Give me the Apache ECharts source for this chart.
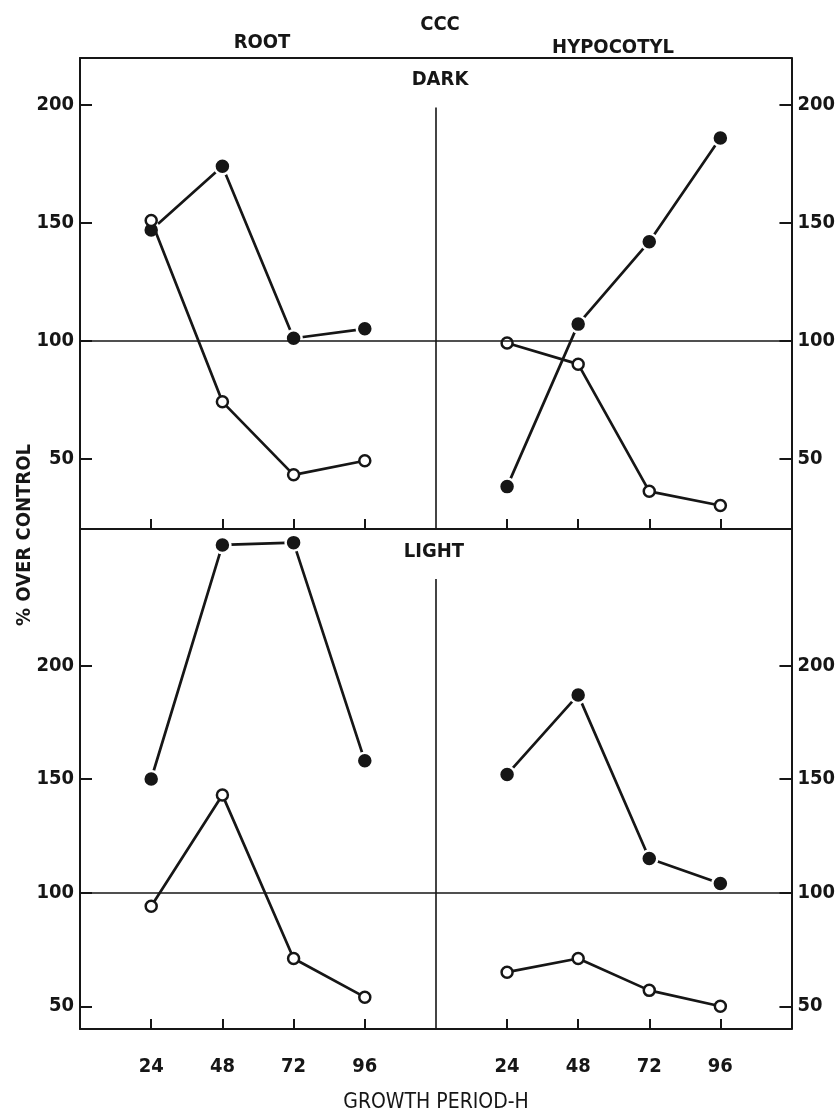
<!DOCTYPE html>
<html>
<head>
<meta charset="utf-8">
<script src="https://cdn.jsdelivr.net/npm/echarts@6/dist/echarts.min.js"></script>
<style>
  html, body { margin: 0; padding: 0; background: #ffffff; }
  #chart { width: 838px; height: 1114px; }
</style>
</head>
<body>
<div id="chart"></div>
<script>
// ---- data ----
const hours = [24, 48, 72, 96];
const xTickLabels = [24, 48, 72, 96];
const yTickLabels = [50, 100, 150, 200];

const darkRootFilled = [147, 174, 101, 105];
const darkRootOpen   = [151, 74, 43, 49];
const darkHypFilled  = [38, 107, 142, 186];
const darkHypOpen    = [99, 90, 36, 30];

const lightRootFilled = [150, 253, 254, 158];
const lightRootOpen   = [94, 143, 71, 54];
const lightHypFilled  = [152, 187, 115, 104];
const lightHypOpen    = [65, 71, 57, 50];

const controlLevel = 100;

// ---- styling ----
const INK = '#161616';
const FONT = "'DejaVu Sans Condensed', 'DejaVu Sans', sans-serif";

function pts(vals) { return hours.map((h, i) => [h, vals[i]]); }

const grids = [
  { left: 80,  top: 58,  width: 356, height: 471 },
  { left: 436, top: 58,  width: 356, height: 471 },
  { left: 80,  top: 529, width: 356, height: 500 },
  { left: 436, top: 529, width: 356, height: 500 }
];
const yRange = [[20, 220], [20, 220], [40, 260], [40, 260]];
const dividerTop = [199, null, 238, null];

function xBottom(gi, showLabels) {
  return {
    type: 'value', gridIndex: gi, position: 'bottom', min: 0, max: 120,
    axisLine: { show: true, onZero: false, lineStyle: { color: INK, width: 2 } },
    axisTick: { show: true, inside: true, length: 10, customValues: xTickLabels, lineStyle: { color: INK, width: 2 } },
    axisLabel: { show: showLabels, customValues: xTickLabels, margin: 28, color: INK,
                 fontFamily: FONT, fontWeight: 'bold', fontSize: 20 },
    splitLine: { show: false }
  };
}
function xTop(gi) {
  return {
    type: 'value', gridIndex: gi, position: 'top', min: 0, max: 120,
    axisLine: { show: true, onZero: false, lineStyle: { color: INK, width: 2 } },
    axisTick: { show: false }, axisLabel: { show: false }, splitLine: { show: false }
  };
}
function yAx(gi, pos) {
  return {
    type: 'value', gridIndex: gi, position: pos, min: yRange[gi][0], max: yRange[gi][1],
    axisLine: { show: true, onZero: false, lineStyle: { color: INK, width: 2 } },
    axisTick: { show: true, inside: true, length: 12, customValues: yTickLabels, lineStyle: { color: INK, width: 2 } },
    axisLabel: { customValues: yTickLabels, margin: 6, color: INK,
                 fontFamily: FONT, fontWeight: 'bold', fontSize: 20 },
    splitLine: { show: false }
  };
}

function filledSeries(gi, vals) {
  const ml = [{ yAxis: controlLevel }];
  if (dividerTop[gi] !== null) {
    ml.push([{ coord: [120, dividerTop[gi]] }, { coord: [120, yRange[gi][0]] }]);
  }
  return {
    type: 'line', xAxisIndex: gi, yAxisIndex: gi, data: pts(vals), clip: false,
    symbol: 'circle', symbolSize: 16, z: 3,
    lineStyle: { color: INK, width: 2.7 },
    itemStyle: { color: INK, borderColor: '#ffffff', borderWidth: 2.5 },
    markLine: {
      silent: true, symbol: ['none', 'none'], label: { show: false },
      lineStyle: { color: INK, width: 1.6, type: 'solid' },
      emphasis: { disabled: true },
      data: ml
    }
  };
}
function openSeries(gi, vals) {
  return {
    type: 'line', xAxisIndex: gi, yAxisIndex: gi, data: pts(vals), clip: false,
    symbol: 'circle', symbolSize: 11, z: 4,
    lineStyle: { color: INK, width: 2.7 },
    itemStyle: { color: '#ffffff', borderColor: INK, borderWidth: 2.5 }
  };
}

function txt(text, x, y, size, weight, rot) {
  return {
    type: 'text', x: x, y: y, rotation: rot || 0, silent: true,
    style: { text: text, fill: INK, font: weight + ' ' + size + 'px ' + FONT,
             textAlign: 'center', textVerticalAlign: 'middle' }
  };
}

const option = {
  animation: false,
  backgroundColor: '#ffffff',
  grid: grids,
  xAxis: [xBottom(0, false), xBottom(1, false), xBottom(2, true), xBottom(3, true), xTop(0), xTop(1)],
  yAxis: [yAx(0, 'left'), yAx(1, 'right'), yAx(2, 'left'), yAx(3, 'right')],
  series: [
    filledSeries(0, darkRootFilled),  openSeries(0, darkRootOpen),
    filledSeries(1, darkHypFilled),   openSeries(1, darkHypOpen),
    filledSeries(2, lightRootFilled), openSeries(2, lightRootOpen),
    filledSeries(3, lightHypFilled),  openSeries(3, lightHypOpen)
  ],
  graphic: [
    txt('CCC', 440, 25, 20, 'bold'),
    txt('ROOT', 262, 43, 20, 'bold'),
    txt('HYPOCOTYL', 613, 48, 20, 'bold'),
    txt('DARK', 440, 80, 20, 'bold'),
    txt('LIGHT', 434, 552, 20, 'bold'),
    txt('% OVER CONTROL', 25, 535, 20, 'bold', Math.PI / 2),
    txt('GROWTH PERIOD-H', 436, 1103, 21, 'normal')
  ]
};

const chart = echarts.init(document.getElementById('chart'), null, { renderer: 'canvas' });
chart.setOption(option);
</script>
</body>
</html>
